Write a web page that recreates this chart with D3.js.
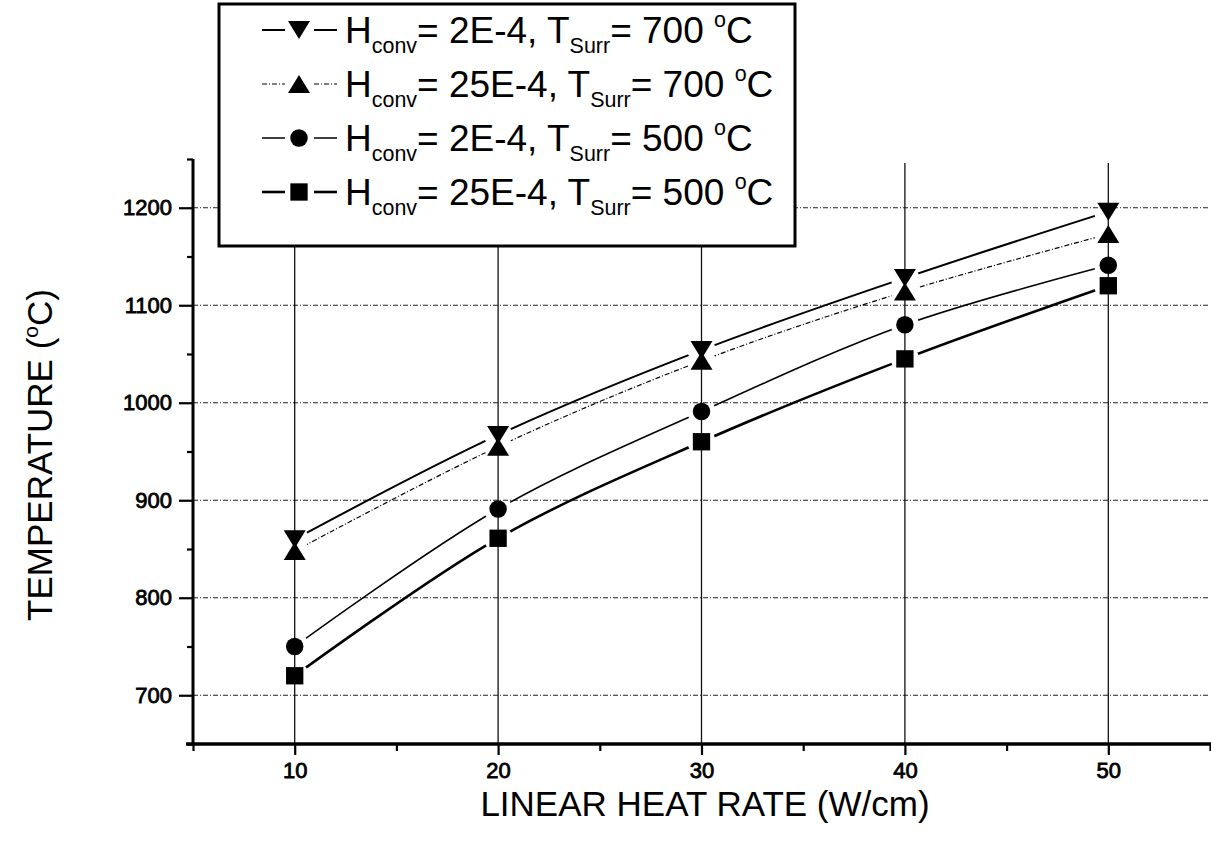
<!DOCTYPE html>
<html><head><meta charset="utf-8">
<script src="https://cdn.jsdelivr.net/npm/d3@7"></script>
<style>html,body{margin:0;padding:0;background:#fff;}svg{display:block;font-family:"Liberation Sans",Arial,Helvetica,sans-serif;}</style>
</head><body>
<svg id="chart" width="1211" height="846"></svg>
<script>
// ---- data ----
const heatRate = [10, 20, 30, 40, 50];
const tempH2T700 = [860, 967, 1054, 1128, 1196];
const tempH25T700 = [848, 955, 1043, 1114, 1173];
const tempH2T500 = [750, 891, 991, 1080, 1141];
const tempH25T500 = [720, 861, 960, 1045, 1120];
const hconvValues = ["2E-4", "25E-4", "2E-4", "25E-4"];
const tsurrValues = ["700", "700", "500", "500"];
const xTickValues = [10, 20, 30, 40, 50];
const xMinorTicks = [5, 15, 25, 35, 45, 55];
const yTickValues = [700, 800, 900, 1000, 1100, 1200];
const yMinorTicks = [650, 750, 850, 950, 1050, 1150, 1250];
const xTitle = "LINEAR HEAT RATE (W/cm)";
const yTitle = "TEMPERATURE (";

const svg = d3.select("#chart");
const x = d3.scaleLinear().domain([5, 55]).range([193, 1210]);
const y = d3.scaleLinear().domain([650, 1250]).range([744, 159]);

const series = [
  {vals: tempH2T700, sym: "down", width: 2, dash: null},
  {vals: tempH25T700, sym: "up", width: 1.2, dash: "5,2,1,2"},
  {vals: tempH2T500, sym: "circle", width: 1.5, dash: null},
  {vals: tempH25T500, sym: "square", width: 2.6, dash: null}
];

function symPath(type) {
  if (type === "down") return "M-11,-9L11,-9L0,9Z";
  if (type === "up") return "M-11,9L11,9L0,-9Z";
  if (type === "square") return d3.symbol(d3.symbolSquare, 300)();
  return d3.symbol(d3.symbolCircle, 240)();
}

// ---- grid ----
const grid = svg.append("g");
grid.selectAll("line.h").data(yTickValues).join("line")
  .attr("x1", x(5)).attr("x2", x(55)).attr("y1", d => y(d)).attr("y2", d => y(d))
  .attr("stroke", "#222").attr("stroke-width", 1.1).attr("stroke-dasharray", "5,2,1,2");
grid.selectAll("line.v").data(xTickValues).join("line")
  .attr("x1", d => x(d)).attr("x2", d => x(d)).attr("y1", y(650)).attr("y2", y(1246))
  .attr("stroke", "#111").attr("stroke-width", 1.3);

// ---- axes ----
const yAxis = svg.append("g").attr("transform", `translate(${x(5)},0)`)
  .call(d3.axisLeft(y).tickValues(yTickValues).tickSize(14).tickFormat(d3.format("d")));
const yMinor = svg.append("g").attr("transform", `translate(${x(5)},0)`)
  .call(d3.axisLeft(y).tickValues(yMinorTicks).tickSize(6).tickFormat(""));
const xAxis = svg.append("g").attr("transform", `translate(0,${y(650)})`)
  .call(d3.axisBottom(x).tickValues(xTickValues).tickSize(11).tickPadding(7).tickFormat(d3.format("d")));
const xMinor = svg.append("g").attr("transform", `translate(0,${y(650)})`)
  .call(d3.axisBottom(x).tickValues(xMinorTicks).tickSize(7).tickFormat(""));
[yAxis, yMinor, xAxis, xMinor].forEach(g => {
  g.select(".domain").remove();
  g.selectAll(".tick line").attr("stroke", "#000").attr("stroke-width", 2.2);
});
yAxis.selectAll(".tick text").attr("font-size", 22).attr("fill", "#000").attr("x", -21)
  .attr("stroke", "#000").attr("stroke-width", 0.8);
xAxis.selectAll(".tick text").attr("font-size", 22).attr("fill", "#000")
  .attr("stroke", "#000").attr("stroke-width", 0.8);
svg.append("line").attr("x1", x(5)).attr("x2", x(5)).attr("y1", y(1250)).attr("y2", y(650) + 2)
  .attr("stroke", "#000").attr("stroke-width", 3);
svg.append("line").attr("x1", x(5) - 7).attr("x2", 1211).attr("y1", y(650)).attr("y2", y(650))
  .attr("stroke", "#000").attr("stroke-width", 3.5);

// ---- series ----
const defs = svg.append("defs");
const line = d3.line().x((d, i) => x(heatRate[i])).y(d => y(d)).curve(d3.curveCatmullRom);
series.forEach((s, k) => {
  const m = defs.append("mask").attr("id", "gap" + k).attr("maskUnits", "userSpaceOnUse")
    .attr("x", 0).attr("y", 0).attr("width", 1211).attr("height", 846);
  m.append("rect").attr("width", 1211).attr("height", 846).attr("fill", "#fff");
  m.selectAll("circle").data(s.vals).join("circle")
    .attr("cx", (d, i) => x(heatRate[i])).attr("cy", d => y(d)).attr("r", 14).attr("fill", "#000");
  svg.append("path").datum(s.vals).attr("d", line).attr("fill", "none")
    .attr("stroke", "#000").attr("stroke-width", s.width)
    .attr("stroke-dasharray", s.dash).attr("mask", `url(#gap${k})`);
  svg.append("g").selectAll("path").data(s.vals).join("path")
    .attr("transform", (d, i) => `translate(${x(heatRate[i])},${y(d)})`)
    .attr("d", symPath(s.sym)).attr("fill", "#000");
});

// ---- legend ----
const lg = svg.append("g");
lg.append("rect").attr("x", 219).attr("y", 4).attr("width", 576).attr("height", 242)
  .attr("fill", "#fff").attr("stroke", "#000").attr("stroke-width", 3);
const rowY = [30, 84, 138, 192];
const fs = 37;
series.forEach((s, k) => {
  const cy = rowY[k];
  lg.append("line").attr("x1", 262).attr("x2", 285).attr("y1", cy).attr("y2", cy)
    .attr("stroke", "#000").attr("stroke-width", s.width).attr("stroke-dasharray", s.dash);
  lg.append("line").attr("x1", 314).attr("x2", 337).attr("y1", cy).attr("y2", cy)
    .attr("stroke", "#000").attr("stroke-width", s.width).attr("stroke-dasharray", s.dash);
  lg.append("path").attr("transform", `translate(299,${cy})`).attr("d", symPath(s.sym)).attr("fill", "#000");
  const t = lg.append("text").attr("x", 345).attr("y", cy + 13).attr("font-size", fs).attr("fill", "#000");
  t.append("tspan").text("H");
  t.append("tspan").attr("font-size", fs * 0.58).attr("dy", 10).text("conv");
  t.append("tspan").attr("dy", -10).text("= " + hconvValues[k] + ", T");
  t.append("tspan").attr("font-size", fs * 0.58).attr("dy", 10).text("Surr");
  t.append("tspan").attr("dy", -10).text("= " + tsurrValues[k] + " ");
  t.append("tspan").attr("font-size", fs * 0.58).attr("dy", -16).text("o");
  t.append("tspan").attr("dy", 16).text("C");
});

// ---- titles ----
svg.append("text").attr("x", 705).attr("y", 816).attr("text-anchor", "middle")
  .attr("font-size", 35).attr("fill", "#000").text(xTitle);
const yt = svg.append("text").attr("transform", "translate(52,455) rotate(-90)")
  .attr("text-anchor", "middle").attr("font-size", 35).attr("fill", "#000");
yt.append("tspan").text(yTitle);
yt.append("tspan").attr("font-size", 21).attr("dy", -14).text("o");
yt.append("tspan").attr("dy", 14).text("C)");
</script>
</body></html>
